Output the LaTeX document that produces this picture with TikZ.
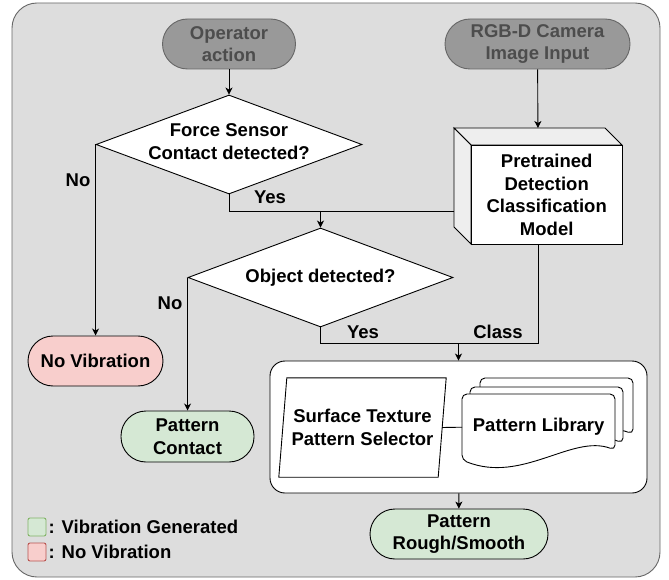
\documentclass[tikz,border=0pt]{standalone}
\usepackage{fontspec}
\setmainfont{Liberation Sans}
\usetikzlibrary{shapes, arrows.meta, positioning, calc}
\definecolor{bggray}{HTML}{DDDDDD}
\definecolor{edgegray}{HTML}{666666}
\definecolor{termgray}{HTML}{999999}
\definecolor{termtext}{HTML}{4D4D4D}
\definecolor{facegray}{HTML}{EEEEEE}
\definecolor{okfill}{HTML}{D5E8D4}
\definecolor{okline}{HTML}{82B366}
\definecolor{nofill}{HTML}{F8CECC}
\definecolor{noline}{HTML}{B85450}
\tikzset{
 every node/.style={font=\bfseries\fontsize{18.5}{22.5}\selectfont, align=center},
 term/.style={draw=edgegray, line width=0.9pt, fill=termgray, text=termtext, rounded corners=25pt, minimum height=50pt},
 result/.style={draw=black, line width=0.9pt, rounded corners=25pt, minimum height=50pt},
 decision/.style={diamond, draw=black, line width=0.9pt, fill=white, inner sep=0pt, minimum width=266pt, minimum height=99pt},
 keybox/.style={rounded corners=2pt, minimum size=18pt, inner sep=0pt, line width=0.9pt},
 flow/.style={-{Stealth[length=7pt, width=7pt, inset=2pt]}, line width=0.9pt},
 plain/.style={line width=0.9pt},
}

\begin{document}
\begin{tikzpicture}[x=1pt, y=-1pt]
 \useasboundingbox (0,0) rectangle (669,580);
 \draw[draw=edgegray, fill=bggray, line width=0.9pt, rounded corners=25pt] (12,3) rectangle (660,577);

 \node[term, minimum width=133pt] (op) at (229,44) {Operator\\action};
 \node[term, minimum width=185pt] (cam) at (537.5,44) {RGB-D Camera\\Image Input};
 \node[decision, label={[yshift=3pt]center:{Force Sensor\\Contact detected?}}] (force) at (229,144.5) {};
 \node[decision, minimum width=265pt, label={center:Object detected?}] (obj) at (320.5,277.5) {};

 % cube for the model
 \coordinate (modelnw) at (454,128);
 \draw[plain, fill=facegray] (modelnw) -- ++(151,0) -- ++(17,17) -- ++(-151,0) -- cycle;
 \draw[plain, fill=facegray] (modelnw) -- ++(17,17) -- ++(0,99) -- ++(-17,-17) -- cycle;
 \draw[plain, fill=white] ($(modelnw)+(17,17)$) rectangle ++(151,99);
 \node[anchor=north west, minimum width=168pt, minimum height=116pt, inner sep=0pt,
  label={[xshift=8.5pt, yshift=-8.5pt]center:{Pretrained\\Detection\\Classification\\Model}}] (model) at (modelnw) {};

 \node[result, fill=nofill, minimum width=135pt] (novib) at (95.5,361) {No Vibration};
 \node[result, fill=okfill, minimum width=133pt, minimum height=51pt] (pcont) at (187.5,436.5) {Pattern\\Contact};

 \node[draw=black, line width=0.9pt, fill=white, rounded corners=15pt, minimum width=377pt, minimum height=132pt] (panel) at (458.5,427) {};
 \node[minimum width=159pt, minimum height=99pt, inner sep=0pt] (sel) at (362.5,427.5) {Surface Texture\\Pattern Selector};
 \draw[plain] ($(sel.north west)+(4,0)$) -- ($(sel.north east)+(4,0)$) -- ($(sel.south east)+(-4,0)$) -- ($(sel.south west)+(-4,0)$) -- cycle;

 % stacked pages of the library
 \coordinate (libcorner) at (462,394);
 \foreach \dx/\dy in {18/-16, 8/-7, 0/0}
  \draw[plain, fill=white, rounded corners=5pt, shift={($(libcorner)+(\dx,\dy)$)}]
   (0,30) -- (0,0) -- (153,0) -- (153,56) .. controls (110,40) and (60,90) .. (0,66) -- cycle;
 \node[anchor=north west, minimum width=153pt, minimum height=66pt, inner sep=0pt] (lib) at (libcorner) {Pattern Library};

 \node[result, fill=okfill, minimum width=178pt] (prs) at (459,534) {Pattern\\Rough/Smooth};

 \node (nolbl1) at (78,180) {No};
 \node (yeslbl1) at (270,197) {Yes};
 \node (nolbl2) at (170,303) {No};
 \node (yeslbl2) at (363,332) {Yes};
 \node (classlbl) at (498,332) {Class};

 \coordinate (join) at (320.5,211);
 \coordinate (merge) at (458.5,343);
 \draw[flow] (op) -- (force);
 \draw[flow] (cam) -- (model);
 \draw[plain] (force.south) |- (join);
 \draw[plain] (model.west |- join) -- (join);
 \draw[flow] (join) -- (obj);
 \draw[flow] (force.west) -- (force.west |- novib.north);
 \draw[flow] (obj.west) -- (obj.west |- pcont.north);
 \draw[plain] (obj.south) |- (merge);
 \draw[plain] (model.south) |- (merge);
 \draw[flow] (merge) -- (panel);
 \draw[plain] (sel.east) -- (lib.west);
 \draw[flow] (panel) -- (prs);

 % legend
 \node[keybox, draw=okline, fill=okfill] (keyok) at (37,527) {};
 \node[right=2pt of keyok, inner sep=0pt] (keyoktxt) {: Vibration Generated};
 \node[keybox, draw=noline, fill=nofill] (keyno) at (37,552) {};
 \node[right=2pt of keyno, inner sep=0pt] (keynotxt) {: No Vibration};
\end{tikzpicture}
\end{document}
